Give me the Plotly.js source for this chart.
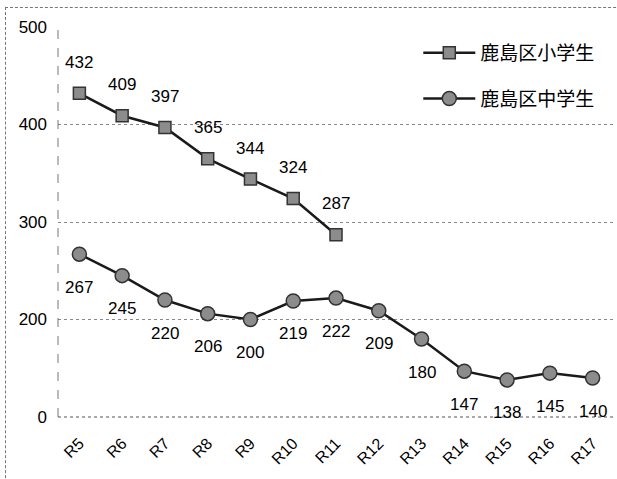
<!DOCTYPE html>
<html><head><meta charset="utf-8">
<script src="https://cdn.plot.ly/plotly-3.0.1.min.js"></script>
<style>
html,body{margin:0;padding:0;background:#fff;}
#frame{position:absolute;left:5px;top:7px;width:640px;height:500px;border-left:1px dashed #777;border-top:1px dashed #777;pointer-events:none;}
#chart{position:absolute;left:0;top:0;width:617px;height:479px;}
</style></head>
<body>
<div id="chart"></div>
<div id="frame"></div>
<script>
const categories = ["R5","R6","R7","R8","R9","R10","R11","R12","R13","R14","R15","R16","R17"];
const elementaryName = "鹿島区小学生";
const middleName = "鹿島区中学生";
const elementary = [432,409,397,365,344,324,287];
const middle = [267,245,220,206,200,219,222,209,180,147,138,145,140];
const yTickVals = [100,200,300,400,500];
const yTickText = ["0","200","300","400","500"];

const elemCats = categories.slice(0, elementary.length);

const traces = [
  {
    x: elemCats, y: elementary, name: elementaryName, type: "scatter", mode: "lines+markers",
    line: {color: "#1a1a1a", width: 2.5},
    marker: {symbol: "square", size: 12, color: "#8c8c8c", line: {color: "#333", width: 1.5}},
    legendgroup: "a"
  },
  {
    x: categories, y: middle, name: middleName, type: "scatter", mode: "lines+markers",
    line: {color: "#1a1a1a", width: 2.5},
    marker: {symbol: "circle", size: 14, color: "#8c8c8c", line: {color: "#333", width: 1.5}},
    legendgroup: "b"
  }
];

const labelFont = {family: "Liberation Sans, Arial, sans-serif", size: 17, color: "#000"};
const annotations = [];
elementary.forEach((v, i) => annotations.push({
  x: elemCats[i], y: v, text: String(v), showarrow: false, yshift: 31, font: labelFont
}));
middle.forEach((v, i) => annotations.push({
  x: categories[i], y: v, text: String(v), showarrow: false, yshift: -33, font: labelFont
}));

const layout = {
  width: 617, height: 479,
  margin: {l: 58, r: 3, t: 27, b: 62},
  paper_bgcolor: "#fff", plot_bgcolor: "#fff",
  showlegend: true,
  legend: {
    x: 0.648, y: 0.982, xanchor: "left", yanchor: "top",
    font: {family: "Noto Sans CJK JP, sans-serif", size: 19, color: "#000"},
    bgcolor: "rgba(0,0,0,0)", tracegroupgap: 18, itemwidth: 52
  },
  xaxis: {
    type: "category", categoryorder: "array", categoryarray: categories,
    range: [-0.5, 12.5], showgrid: false, zeroline: false, showline: false,
    ticks: "", tickangle: -45, ticklabelstandoff: 13,
    tickfont: {family: "Liberation Sans, Arial, sans-serif", size: 16, color: "#000"}
  },
  yaxis: {
    range: [100, 500], tickvals: yTickVals, ticktext: yTickText,
    showgrid: true, gridcolor: "#888", griddash: "dot", gridwidth: 1,
    zeroline: false, showline: false, ticks: "", ticklabelstandoff: 10,
    tickfont: {family: "Liberation Sans, Arial, sans-serif", size: 17, color: "#000"}
  },
  shapes: [
    {type: "line", xref: "paper", yref: "paper", x0: 0, x1: 0, y0: 0, y1: 1, line: {color: "#777", width: 1, dash: "dash"}},
    {type: "line", xref: "paper", yref: "paper", x0: 0, x1: 1, y0: 0, y1: 0, line: {color: "#555", width: 1.2, dash: "dot"}}
  ],
  annotations: annotations
};

Plotly.newPlot("chart", traces, layout, {displayModeBar: false, staticPlot: true});
</script>
</body></html>
